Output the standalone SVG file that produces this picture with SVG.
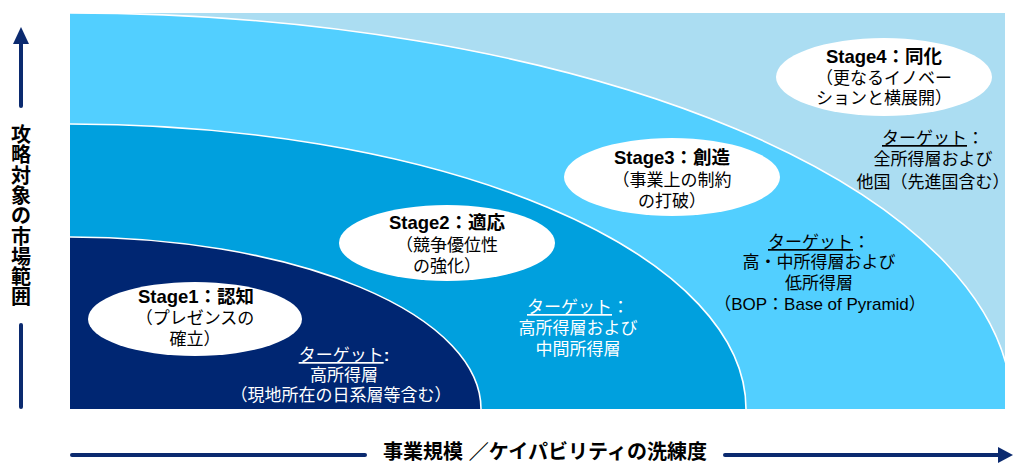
<svg xmlns="http://www.w3.org/2000/svg" width="1014" height="464" viewBox="0 0 1014 464">
<style>
.t{font-family:"Liberation Sans","Noto Sans CJK JP",sans-serif;font-size:17px;text-anchor:middle}
.b{font-weight:bold;font-size:18.5px}
.w{fill:#ffffff}
.k{fill:#000000}
.arc{fill:none;stroke:#ffffff;stroke-width:1.6}
.ell{fill:#ffffff}
.ax{stroke:#0B2A6F;stroke-width:4;stroke-linecap:round;fill:none}
.axl{font-family:"Liberation Sans","Noto Sans CJK JP",sans-serif;font-weight:bold;font-size:20px;text-anchor:middle;fill:#000}
</style>
<defs>
<clipPath id="area"><rect x="70" y="13" width="935" height="396"/></clipPath>
</defs>
<rect width="1014" height="464" fill="#ffffff"/>
<g id="bands" clip-path="url(#area)">
<rect x="70" y="13" width="935" height="396" fill="#ABDDF2"/>
<path d="M70,409 L70,13 A942,396 0 0 1 1012,409 Z" fill="#52CFFF"/>
<path class="arc" d="M70,13 A942,396 0 0 1 1012,409"/>
<path d="M70,409 L70,124 A676,285 0 0 1 746,409 Z" fill="#00A0DE"/>
<path class="arc" d="M70,124 A676,285 0 0 1 746,409"/>
<path d="M70,409 L70,237 A411,172 0 0 1 481,409 Z" fill="#002672"/>
<path class="arc" d="M70,237 A411,172 0 0 1 481,409"/>
</g>
<g id="connectors">
<line class="ax" x1="21" y1="42" x2="21" y2="106"/>
<polygon points="21,27 13,44 29,44" fill="#0B2A6F"/>
<line class="ax" x1="21" y1="325" x2="21" y2="407"/>
<line class="ax" x1="72" y1="455" x2="365" y2="455"/>
<line class="ax" x1="725" y1="455" x2="1000" y2="455"/>
<polygon points="1013,455 998,447 998,463" fill="#0B2A6F"/>
</g>
<g id="axis-y">
<text class="axl"><tspan x="21" y="142">攻</tspan><tspan x="21" y="162.3">略</tspan><tspan x="21" y="182.6">対</tspan><tspan x="21" y="202.9">象</tspan><tspan x="21" y="223.2">の</tspan><tspan x="21" y="243.5">市</tspan><tspan x="21" y="263.8">場</tspan><tspan x="21" y="284.1">範</tspan><tspan x="21" y="304.4">囲</tspan></text>
</g>
<g id="axis-x">
<text class="axl" x="545" y="459" font-size="19" textLength="324" lengthAdjust="spacingAndGlyphs">事業規模 ／ケイパビリティの洗練度</text>
</g>
<g id="stage1">
<ellipse class="ell" cx="195" cy="319" rx="107" ry="37"/>
<text class="t b k" x="196" y="303">Stage1：認知</text>
<text class="t k" x="195" y="324">（プレゼンスの</text>
<text class="t k" x="195" y="345">確立）</text>
</g>
<g id="stage2">
<ellipse class="ell" cx="447" cy="243" rx="108" ry="38"/>
<text class="t b k" x="447" y="229">Stage2：適応</text>
<text class="t k" x="447" y="251">（競争優位性</text>
<text class="t k" x="447" y="272">の強化）</text>
</g>
<g id="stage3">
<ellipse class="ell" cx="672" cy="177" rx="108" ry="39"/>
<text class="t b k" x="672" y="164">Stage3：創造</text>
<text class="t k" x="672" y="186">（事業上の制約</text>
<text class="t k" x="672" y="207">の打破）</text>
</g>
<g id="stage4">
<ellipse class="ell" cx="884" cy="77" rx="108" ry="39"/>
<text class="t b k" x="884" y="63">Stage4：同化</text>
<text class="t k" x="884" y="84">（更なるイノベー</text>
<text class="t k" x="884" y="104">ションと横展開）</text>
</g>
<g id="target1">
<text class="t w" x="344" y="361"><tspan text-decoration="underline">ターゲット</tspan><tspan font-weight="bold">:</tspan></text>
<text class="t w" x="344" y="381">高所得層</text>
<text class="t w" x="341" y="401">（現地所在の日系層等含む）</text>
</g>
<g id="target2">
<text class="t w" x="578" y="313"><tspan text-decoration="underline">ターゲット</tspan>：</text>
<text class="t w" x="578" y="334">高所得層および</text>
<text class="t w" x="578" y="355">中間所得層</text>
</g>
<g id="target3">
<text class="t k" x="819" y="248"><tspan text-decoration="underline">ターゲット</tspan>：</text>
<text class="t k" x="819" y="268">高・中所得層および</text>
<text class="t k" x="819" y="289">低所得層</text>
<text class="t k" x="820" y="310">（BOP：Base of Pyramid）</text>
</g>
<g id="target4">
<text class="t k" x="933" y="144"><tspan text-decoration="underline">ターゲット</tspan>：</text>
<text class="t k" x="933" y="165">全所得層および</text>
<text class="t k" x="933" y="188">他国（先進国含む）</text>
</g>
</svg>
